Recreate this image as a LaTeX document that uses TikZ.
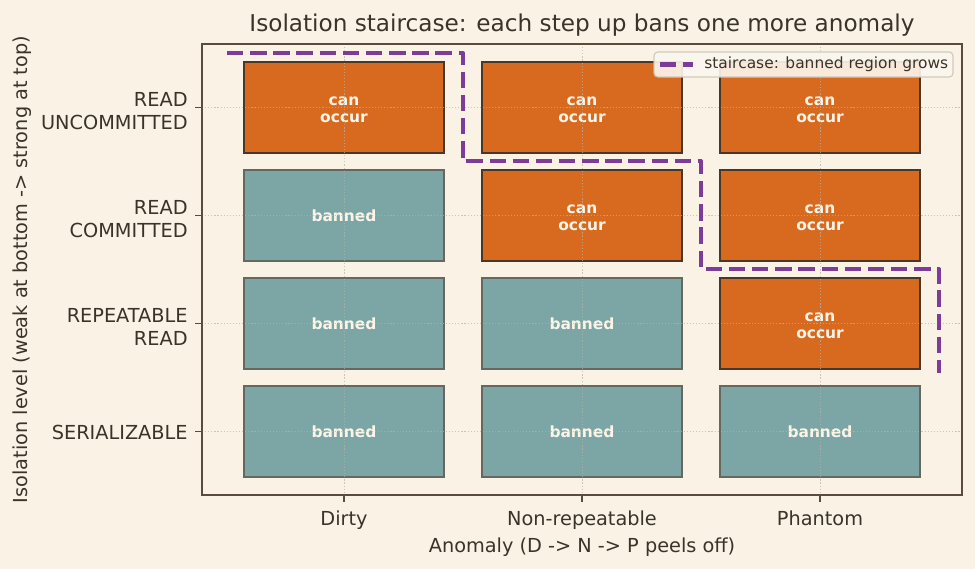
\documentclass[tikz,border=0pt]{standalone}
\usepackage{fontspec}
\setmainfont{DejaVu Sans}
\usetikzlibrary{positioning}
\definecolor{bgc}{HTML}{FAF2E4}
\definecolor{ink}{HTML}{3B322A}
\definecolor{spine}{HTML}{5A4C3D}
\definecolor{occfill}{HTML}{D86A20}
\definecolor{occedge}{HTML}{4A3728}
\definecolor{banfill}{HTML}{7BA6A5}
\definecolor{banedge}{HTML}{65685E}
\definecolor{stair}{HTML}{7D3C98}
\definecolor{boxtxt}{HTML}{FCF4E6}
\definecolor{gridc}{HTML}{B9B2A6}
\tikzset{
  celltext/.style={inner sep=0pt, align=center, text=boxtxt, font=\bfseries\fontsize{8}{9.2}\selectfont},
  cell/.style={rectangle, minimum width=103.6pt, minimum height=47pt, line width=0.75pt, inner sep=0pt},
  occ/.style={cell, fill=occfill, draw=occedge,
     label={[celltext, yshift=-1.2pt]center:can\\occur}},
  ban/.style={cell, fill=banfill, draw=banedge, celltext},
  ticklab/.style={font=\fontsize{10}{11.6}\selectfont, text=ink, inner sep=0pt},
  gridline/.style={draw=gridc, line width=0.4pt, dash pattern=on 0.6pt off 1pt},
  stairline/.style={draw=stair, line width=2.1pt, dash pattern=on 8.5pt off 3.5pt, line join=round},
}
\begin{document}
\begin{tikzpicture}[x=0.5182pt, y=-0.5182pt]
\fill[bgc] (0,0) rectangle (975,569);
\useasboundingbox (0,0) rectangle (975,569);
% boxes: columns 344,582,820 ; rows RU, RC, RR, S
\node[occ] (ru-d) at (344,107.5) {};
\node[occ] (ru-n) at (582,107.5) {};
\node[occ] (ru-p) at (820,107.5) {};
\node[ban] (rc-d) at (344,215.5) {banned};
\node[occ] (rc-n) at (582,215.5) {};
\node[occ] (rc-p) at (820,215.5) {};
\node[ban] (rr-d) at (344,323.5) {banned};
\node[ban] (rr-n) at (582,323.5) {banned};
\node[occ] (rr-p) at (820,323.5) {};
\node[ban] (s-d) at (344,431.5) {banned};
\node[ban] (s-n) at (582,431.5) {banned};
\node[ban] (s-p) at (820,431.5) {banned};
% grid
\foreach \gx in {344,582,820} {\draw[gridline, opacity=0.7] (\gx,44) -- (\gx,495);}
\foreach \gy in {107.5,215.5,323.5,431.5} {\draw[gridline, opacity=0.7] (202,\gy) -- (962,\gy);}
% staircase
\draw[stairline] (227,53) -- (463,53) -- (463,161) -- (701,161) -- (701,269) -- (939,269) -- (939,373);
% axes frame
\draw[spine, line width=0.9pt] (202,44) rectangle (962,495);
% ticks
\foreach \gx in {344,582,820} {\draw[spine, line width=0.9pt] (\gx,495) -- (\gx,502);}
\foreach \gy in {107.5,215.5,323.5,431.5} {\draw[spine, line width=0.9pt] (195,\gy) -- (202,\gy);}
% tick labels
\node[ticklab, anchor=base] (xl-d) at (344,525) {Dirty};
\node[ticklab, anchor=base] (xl-n) at (582,525) {Non-repeatable};
\node[ticklab, anchor=base] (xl-p) at (820,525) {Phantom};
\node[ticklab, anchor=east, align=right] (yl-ru) at (188,111) {READ\\UNCOMMITTED};
\node[ticklab, anchor=east, align=right] (yl-rc) at (188,219) {READ\\COMMITTED};
\node[ticklab, anchor=east, align=right] (yl-rr) at (188,327) {REPEATABLE\\READ};
\node[ticklab, anchor=east, align=right] (yl-s) at (188,432) {SERIALIZABLE};
% axis labels
\node[ticklab, anchor=base] (xlabel) at (582,552) {Anomaly (D -> N -> P peels off)};
\node[ticklab, rotate=90, anchor=center] (ylabel) at (22,269.5) {Isolation level (weak at bottom -> strong at top)};
% title
\node[font=\fontsize{12}{14}\selectfont, text=ink, anchor=base, inner sep=0pt] (title) at (582,31) {Isolation staircase: each step up bans one more anomaly};
% legend
\draw[fill=bgc!60!white, draw=gridc!70!bgc, line width=0.6pt, rounded corners=2pt, opacity=0.9] (654,52) rectangle (953,77);
\coordinate (lh1) at (660,64.5);
\coordinate (lh2) at (693,64.5);
\draw[stairline] (lh1) -- (lh2);
\node[font=\fontsize{8}{9.6}\selectfont, text=ink, anchor=west, inner sep=0pt] (legtext) at (704,64.5) {staircase: banned region grows};
\end{tikzpicture}
\end{document}
